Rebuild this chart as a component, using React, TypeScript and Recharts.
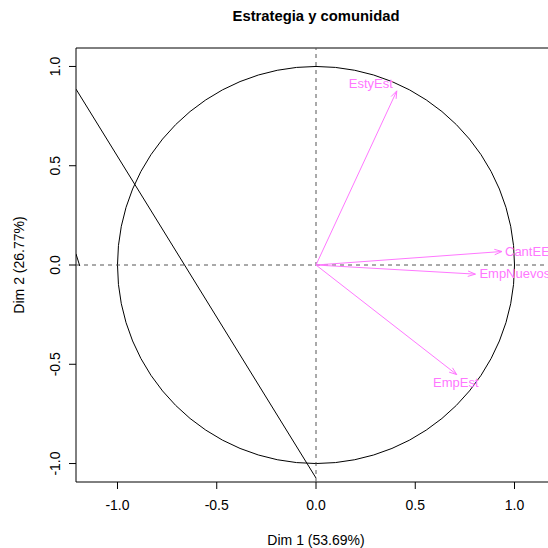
import { ComposedChart, XAxis, YAxis, Scatter, ReferenceLine, ReferenceArea } from 'recharts';

// variables of the correlation circle
const variables = ['EstyEst', 'CantEE', 'EmpNuevos', 'EmpEst'];
const dim1 = [0.407, 0.937, 0.803, 0.709];
const dim2 = [0.877, 0.068, -0.046, -0.552];

const axisTicks = [-1, -0.5, 0, 0.5, 1];
const xDomain = [-1.209, 1.209];
const yDomain = [-1.093, 1.093];

// stray line segments drawn over the plot
const strayLine = [
    { x: -1.209, y: 0.886 },
    { x: 0.0, y: -1.073 },
];
const strayTick = [
    { x: -1.209, y: 0.056 },
    { x: -1.19, y: -0.005 },
];

const FONT = '"Liberation Sans", Arial, sans-serif';
const PINK = '#ff77ff';

const labelPlace: Record<string, { dx: number; dy: number; anchor: 'start' | 'middle' | 'end' }> = {
    EstyEst: { dx: -26, dy: -3, anchor: 'middle' },
    CantEE: { dx: 3, dy: 5, anchor: 'start' },
    EmpNuevos: { dx: 4, dy: 4, anchor: 'start' },
    EmpEst: { dx: -1, dy: 12, anchor: 'middle' },
};

const points = variables.map((name, i) => ({ name, x: dim1[i], y: dim2[i] }));

function Arrow(props: any) {
    const { x1, y1, x2, y2 } = props;
    const a = Math.atan2(y2 - y1, x2 - x1);
    const len = 8;
    const spread = (20 * Math.PI) / 180;
    const hx1 = x2 - len * Math.cos(a - spread);
    const hy1 = y2 - len * Math.sin(a - spread);
    const hx2 = x2 - len * Math.cos(a + spread);
    const hy2 = y2 - len * Math.sin(a + spread);
    return (
        <g stroke={PINK} strokeWidth={1} fill="none">
            <line x1={x1} y1={y1} x2={x2} y2={y2} />
            <polyline points={`${hx1},${hy1} ${x2},${y2} ${hx2},${hy2}`} />
        </g>
    );
}

function Circle(props: any) {
    const { x, y, width, height } = props;
    return (
        <ellipse
            cx={x + width / 2}
            cy={y + height / 2}
            rx={width / 2}
            ry={height / 2}
            fill="none"
            stroke="#000"
            strokeWidth={1}
        />
    );
}

function VarLabel(props: any) {
    const { cx, cy, payload } = props;
    const p = labelPlace[payload.name];
    return (
        <text x={cx + p.dx} y={cy + p.dy} textAnchor={p.anchor} fontSize={13} fontFamily={FONT} fill={PINK}>
            {payload.name}
        </text>
    );
}

function XTick({ x, y, payload }: any) {
    return (
        <text x={x} y={y + 21} textAnchor="middle" fontSize={14} fontFamily={FONT} fill="#000">
            {payload.value.toFixed(1)}
        </text>
    );
}

function YTick({ x, y, payload }: any) {
    const tx = x - 9;
    return (
        <text x={tx} y={y} transform={`rotate(-90 ${tx} ${y})`} textAnchor="middle" fontSize={14} fontFamily={FONT} fill="#000">
            {payload.value.toFixed(1)}
        </text>
    );
}

export default function App() {
    return (
        <div style={{ position: 'absolute', left: 0, top: 0, width: 548, height: 548, overflow: 'hidden', background: '#fff' }}>
            <div
                style={{
                    position: 'absolute',
                    left: 116,
                    top: 8,
                    width: 400,
                    textAlign: 'center',
                    fontFamily: FONT,
                    fontWeight: 'bold',
                    fontSize: 14.8,
                    lineHeight: '17px',
                    color: '#000',
                }}
            >
                Estrategia y comunidad
            </div>
            <ComposedChart width={560} height={548} margin={{ top: 48, right: 4, bottom: 0, left: 0 }}>
                <XAxis
                    type="number"
                    dataKey="x"
                    domain={xDomain}
                    ticks={axisTicks}
                    allowDataOverflow
                    axisLine={false}
                    tickSize={7}
                    tickMargin={0}
                    tickLine={{ stroke: '#000' }}
                    tick={<XTick />}
                    height={66}
                    label={(p: any) => (
                        <text
                            x={p.viewBox.x + p.viewBox.width / 2}
                            y={545}
                            textAnchor="middle"
                            fontSize={14}
                            fontFamily={FONT}
                            fill="#000"
                        >
                            Dim 1 (53.69%)
                        </text>
                    )}
                />
                <YAxis
                    type="number"
                    dataKey="y"
                    domain={yDomain}
                    ticks={axisTicks}
                    allowDataOverflow
                    axisLine={false}
                    tickSize={7}
                    tickMargin={0}
                    tickLine={{ stroke: '#000' }}
                    tick={<YTick />}
                    width={76}
                    label={(p: any) => {
                        const cy = p.viewBox.y + p.viewBox.height / 2;
                        return (
                            <text
                                x={24}
                                y={cy}
                                transform={`rotate(-90 24 ${cy})`}
                                textAnchor="middle"
                                fontSize={14}
                                fontFamily={FONT}
                                fill="#000"
                            >
                                Dim 2 (26.77%)
                            </text>
                        );
                    }}
                />
                <ReferenceArea x1={-1} x2={1} y1={-1} y2={1} ifOverflow="visible" shape={<Circle />} />
                <ReferenceLine x={0} stroke="#555" strokeDasharray="4 4" />
                <ReferenceLine y={0} stroke="#555" strokeDasharray="4 4" />
                <ReferenceLine segment={strayLine} ifOverflow="hidden" stroke="#000" />
                <ReferenceLine segment={strayTick} ifOverflow="hidden" stroke="#000" />
                {points.map((pt) => (
                    <ReferenceLine
                        key={pt.name}
                        segment={[
                            { x: 0, y: 0 },
                            { x: pt.x, y: pt.y },
                        ]}
                        ifOverflow="visible"
                        shape={<Arrow />}
                    />
                ))}
                <Scatter data={points} dataKey="y" shape={<VarLabel />} isAnimationActive={false} />
                <ReferenceArea
                    x1={xDomain[0]}
                    x2={xDomain[1]}
                    y1={yDomain[0]}
                    y2={yDomain[1]}
                    fill="none"
                    fillOpacity={0}
                    stroke="#000"
                    strokeOpacity={1}
                    ifOverflow="visible"
                />
            </ComposedChart>
        </div>
    );
}
